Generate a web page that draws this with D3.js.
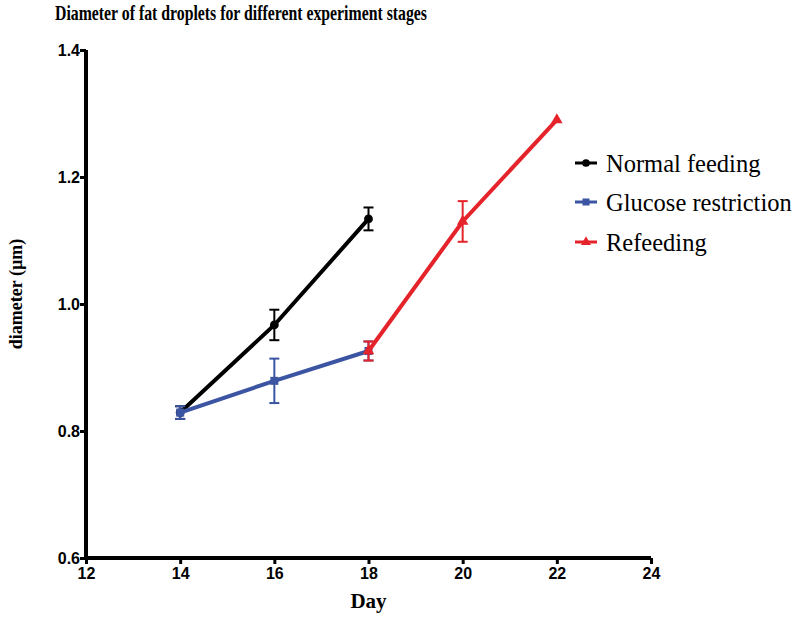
<!DOCTYPE html>
<html>
<head>
<meta charset="utf-8">
<script src="https://cdn.jsdelivr.net/npm/d3@7"></script>
<style>
  html, body { margin: 0; padding: 0; background: #fff; }
  svg { display: block; }
</style>
</head>
<body>
<svg id="chart" width="800" height="617"></svg>
<script>
// ---- data ----
const titleText = "Diameter of fat droplets for different experiment stages";
const xLabel = "Day";
const yLabel = "diameter (µm)";
const xTicks = [12, 14, 16, 18, 20, 22, 24];
const yTicks = [0.6, 0.8, 1.0, 1.2, 1.4];

const seriesNames = ["Normal feeding", "Glucose restriction", "Refeeding"];
const seriesColors = ["#000000", "#3b55a3", "#e5232a"];
const seriesShapes = ["circle", "square", "triangle"];

const normalDays = [14, 16, 18];
const normalMean = [0.829, 0.967, 1.134];
const normalErr  = [0.010, 0.024, 0.018];

const glucoseDays = [14, 16, 18];
const glucoseMean = [0.829, 0.879, 0.926];
const glucoseErr  = [0.010, 0.035, 0.015];

const refeedDays = [18, 20, 22];
const refeedMean = [0.926, 1.130, 1.290];
const refeedErr  = [0.015, 0.032, 0.0];

// ---- layout ----
const svg = d3.select("#chart");
const x = d3.scaleLinear().domain([12, 24]).range([86, 651]);
const y = d3.scaleLinear().domain([0.6, 1.4]).range([558, 50]);

// title
svg.append("text")
  .attr("x", 55).attr("y", 20)
  .attr("textLength", 372).attr("lengthAdjust", "spacingAndGlyphs")
  .style("font-family", "'Liberation Serif', 'Times New Roman', serif")
  .style("font-weight", "bold").style("font-size", "21px")
  .text(titleText);

// axes
const axisFont = "'Liberation Sans', Arial, sans-serif";
const xAxis = svg.append("g").attr("transform", `translate(0,${y(0.6)})`)
  .call(d3.axisBottom(x).tickValues(xTicks).tickFormat(d3.format("d")).tickSize(6).tickSizeOuter(0));
const yAxis = svg.append("g").attr("transform", `translate(${x(12)},0)`)
  .call(d3.axisLeft(y).tickValues(yTicks).tickFormat(d3.format(".1f")).tickSize(6).tickSizeOuter(0));

[xAxis, yAxis].forEach(g => {
  g.select(".domain").attr("stroke", "#000").attr("stroke-width", 4);
  g.selectAll(".tick line").attr("stroke", "#000").attr("stroke-width", 3);
  g.selectAll(".tick text")
    .style("font-family", axisFont).style("font-weight", "bold")
    .style("font-size", "16px").attr("fill", "#000");
});
xAxis.selectAll(".tick text").attr("dy", "0.9em").attr("y", 7);
yAxis.selectAll(".tick text").attr("x", -6);
// extend axis lines to meet at corner
xAxis.select(".domain").attr("d", `M${x(12) - 2},0H${x(24)}`);
yAxis.select(".domain").attr("d", `M0,${y(0.6) + 2}V${y(1.4)}`);

// axis labels
svg.append("text")
  .attr("x", x(18)).attr("y", 608).attr("text-anchor", "middle")
  .style("font-family", "'Liberation Serif', 'Times New Roman', serif")
  .style("font-weight", "bold").style("font-size", "21px")
  .text(xLabel);
svg.append("text")
  .attr("transform", `translate(22,${y(1.0) - 10}) rotate(-90)`)
  .attr("text-anchor", "middle")
  .style("font-family", "'Liberation Serif', 'Times New Roman', serif")
  .style("font-weight", "bold").style("font-size", "18px")
  .text(yLabel);

// series
const series = [
  { days: normalDays, mean: normalMean, err: normalErr },
  { days: glucoseDays, mean: glucoseMean, err: glucoseErr },
  { days: refeedDays, mean: refeedMean, err: refeedErr }
];

const line = d3.line().x(d => x(d.day)).y(d => y(d.mean));

function marker(g, shape, color, cx, cy, s) {
  if (shape === "circle") {
    g.append("circle").attr("cx", cx).attr("cy", cy).attr("r", s * 0.55).attr("fill", color);
  } else if (shape === "square") {
    g.append("rect").attr("x", cx - s * 0.5).attr("y", cy - s * 0.5)
      .attr("width", s).attr("height", s).attr("fill", color);
  } else {
    const sym = d3.symbol().type(d3.symbolTriangle).size(s * s * 0.9);
    g.append("path").attr("transform", `translate(${cx},${cy})`).attr("d", sym()).attr("fill", color);
  }
}

// draw in order: black, blue, red (red over blue at day 18)
series.forEach((s, i) => {
  const pts = s.days.map((d, j) => ({ day: d, mean: s.mean[j], err: s.err[j] }));
  const g = svg.append("g");
  g.append("path").datum(pts).attr("d", line)
    .attr("fill", "none").attr("stroke", seriesColors[i]).attr("stroke-width", 4);
  pts.forEach(p => {
    if (p.err > 0) {
      const cx = x(p.day), y1 = y(p.mean + p.err), y2 = y(p.mean - p.err);
      g.append("line").attr("x1", cx).attr("x2", cx).attr("y1", y1).attr("y2", y2)
        .attr("stroke", seriesColors[i]).attr("stroke-width", 2);
      [y1, y2].forEach(yy => g.append("line")
        .attr("x1", cx - 5).attr("x2", cx + 5).attr("y1", yy).attr("y2", yy)
        .attr("stroke", seriesColors[i]).attr("stroke-width", 2));
    }
    marker(g, seriesShapes[i], seriesColors[i], x(p.day), y(p.mean), 8);
  });
});

// legend
const legend = svg.append("g");
const legY = [163, 202, 242];
seriesNames.forEach((name, i) => {
  const ly = legY[i];
  legend.append("line").attr("x1", 575).attr("x2", 597).attr("y1", ly).attr("y2", ly)
    .attr("stroke", seriesColors[i]).attr("stroke-width", 3);
  marker(legend, seriesShapes[i], seriesColors[i], 586, ly, 7);
  legend.append("text").attr("x", 606).attr("y", ly).attr("dy", "0.35em")
    .style("font-family", "'Liberation Serif', 'Times New Roman', serif")
    .style("font-size", "24.5px").attr("fill", "#000")
    .text(name);
});
</script>
</body>
</html>
